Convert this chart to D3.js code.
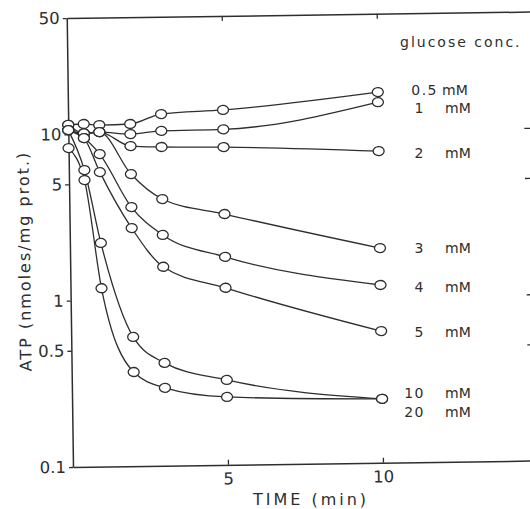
<!DOCTYPE html>
<html><head><meta charset="utf-8">
<script src="https://cdn.jsdelivr.net/npm/d3@7/dist/d3.min.js"></script>
<style>
html,body{margin:0;padding:0;background:#fff;}
svg{display:block;font-family:"DejaVu Sans",sans-serif;}
</style></head>
<body>
<svg id="c" width="530" height="509"></svg>
<script>
// ---- data ----
const times = [0, 0.5, 1, 2, 3, 5, 10];
const concLabels = ["0.5", "1", "2", "3", "4", "5", "10", "20"];
const atp05 = [11.4, 11.5, 11.3, 11.4, 13.0, 13.6, 16.9];
const atp1  = [10.6, 10.1, 10.25, 9.92, 10.3, 10.4, 14.7];
const atp2  = [10.6, 10.1, 10.25, 8.40, 8.24, 8.13, 7.47];
const atp3  = [11.4, 10.1, 10.25, 5.70, 4.01, 3.22, 1.95];
const atp4  = [10.6, 9.46, 7.56, 3.61, 2.44, 1.78, 1.17];
const atp5  = [10.6, 9.46, 5.89, 2.70, 1.57, 1.16, 0.618];
const atp10 = [10.6, 6.08, 2.21, 0.598, 0.415, 0.324, 0.242];
const atp20 = [8.26, 5.29, 1.18, 0.368, 0.294, 0.256, 0.242];
const yTicks = [0.1, 0.5, 1, 5, 10, 50];
const yTickLabels = ["0.1", "0.5", "1", "5", "10", "50"];
const xTicks = [5, 10];
const xTickLabels = ["5", "10"];
const rightTicks = [0.5, 1, 5, 10];

const seriesList = [atp05, atp1, atp2, atp3, atp4, atp5, atp10, atp20];

// ---- layout ----
const ink = "#2e2e2e";
const svg = d3.select("#c");
const g = svg.append("g").attr("transform", "translate(73,467) rotate(-0.8)");

const W = 465, H = 449;
const x = d3.scaleLinear().domain([0, 15]).range([0, W]);
const y = d3.scaleLog().domain([0.1, 50]).range([0, -H]);

// axes
const yAxis = d3.axisLeft(y).tickValues(yTicks)
  .tickFormat((d, i) => yTickLabels[i]).tickSizeInner(4).tickSizeOuter(0).tickPadding(3);
const ga = g.append("g").call(yAxis);
ga.selectAll("text").attr("font-size", 16.5).attr("fill", ink).attr("font-family", "DejaVu Sans");

const xAxis = d3.axisBottom(x).tickValues(xTicks)
  .tickFormat((d, i) => xTickLabels[i]).tickSizeInner(-5).tickSizeOuter(0).tickPadding(8);
const gb = g.append("g").call(xAxis);
gb.selectAll("text").attr("font-size", 16.5).attr("fill", ink).attr("font-family", "DejaVu Sans");

const gt = g.append("g").attr("transform", `translate(0,${y(50)})`)
  .call(d3.axisTop(x).tickValues(xTicks).tickFormat("").tickSizeInner(-5).tickSizeOuter(0));
const gr = g.append("g").attr("transform", `translate(${W},0)`)
  .call(d3.axisRight(y).tickValues(rightTicks).tickFormat("").tickSizeInner(-9).tickSizeOuter(0));

[ga, gb, gt, gr].forEach(a => {
  a.select(".domain").attr("stroke", ink).attr("stroke-width", 1.5);
  a.selectAll(".tick line").attr("stroke", ink).attr("stroke-width", 1.3);
});

// curves
const line = d3.line()
  .x((d, i) => x(times[i]))
  .y(d => y(d))
  .curve(d3.curveMonotoneX);

g.append("g").selectAll("path").data(seriesList).join("path")
  .attr("d", d => line(d))
  .attr("fill", "none").attr("stroke", ink).attr("stroke-width", 1.3);

// markers
seriesList.forEach(s => {
  g.append("g").selectAll("ellipse").data(s).join("ellipse")
    .attr("cx", (d, i) => x(times[i])).attr("cy", d => y(d))
    .attr("rx", 5.5).attr("ry", 4.5)
    .attr("fill", "#fff").attr("stroke", ink).attr("stroke-width", 1.3);
});

// titles
svg.append("text").attr("x", 311).attr("y", 505).attr("text-anchor", "middle")
  .attr("font-size", 16).attr("letter-spacing", 3).attr("fill", ink).text("TIME (min)");
svg.append("text").attr("transform", "translate(30,261) rotate(-90.8)").attr("text-anchor", "middle")
  .attr("font-size", 16).attr("letter-spacing", 2).attr("fill", ink).text("ATP (nmoles/mg prot.)");

// legend
svg.append("text").attr("x", 400).attr("y", 47).attr("font-size", 14)
  .attr("letter-spacing", 2).attr("fill", ink).text("glucose conc.");
const legendY = [95, 113, 158, 253, 292, 337, 398, 417];
concLabels.forEach((c, i) => {
  const isHalf = c === "0.5";
  svg.append("text").attr("x", isHalf ? 438 : 425).attr("y", legendY[i])
    .attr("text-anchor", "end").attr("font-size", 14).attr("letter-spacing", 1.5)
    .attr("fill", ink).text(c);
  svg.append("text").attr("x", isHalf ? 442 : 445).attr("y", legendY[i])
    .attr("font-size", 14).attr("fill", ink).text("mM");
});
</script>
</body></html>
